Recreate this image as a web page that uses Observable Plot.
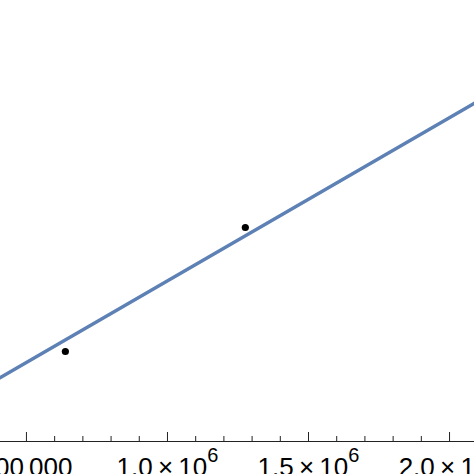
<!DOCTYPE html>
<html>
<head>
<meta charset="utf-8">
<script src="https://cdn.jsdelivr.net/npm/d3@7"></script>
<script src="https://cdn.jsdelivr.net/npm/@observablehq/plot@0.6"></script>
<style>
  html, body { margin: 0; padding: 0; background: #fff; overflow: hidden; }
  #chart svg { display: block; }
</style>
</head>
<body>
<div id="chart"></div>
<script>
// Observed data points (y in arbitrary units, no y axis shown)
const pointX = [638000, 1276000];
const pointY = [90, 214];

// Fitted line endpoints
const fitX = [400000, 2100000];
const fitY = [62.7, 340.2];

// X axis ticks
const majorTicks = [500000, 1000000, 1500000, 2000000];
const majorLabels = ["500\u2009000", "1.0\u2009×\u200910^6", "1.5\u2009×\u200910^6", "2.0\u2009×\u200910^6"];
const minorTicks = [600000, 700000, 800000, 900000, 1100000, 1200000, 1300000, 1400000, 1600000, 1700000, 1800000, 1900000];

const points = pointX.map((x, i) => ({x, y: pointY[i]}));
const fit = fitX.map((x, i) => ({x, y: fitY[i]}));
const majors = majorTicks.map((x, i) => ({x, label: majorLabels[i]}));

const chart = Plot.plot({
  width: 474,
  height: 474,
  marginTop: 0,
  marginLeft: 0,
  marginRight: 0,
  marginBottom: 33,
  x: {domain: [408000, 2088500], axis: null},
  y: {domain: [0, 441], axis: null},
  style: {background: "#fff", fontFamily: "'Liberation Sans', Arial, sans-serif"},
  marks: [
    Plot.ruleY([0], {stroke: "#222", strokeWidth: 1}),
    Plot.ruleX(majors, {x: "x", y1: 0, y2: 9, stroke: "#222", strokeWidth: 1}),
    Plot.ruleX(minorTicks, {x: d => d, y1: 0, y2: 5, stroke: "#222", strokeWidth: 1}),
    Plot.text(majors, {x: "x", y: 0, text: "label", fontSize: 26, fill: "#000", lineAnchor: "bottom", dy: 34, textAnchor: "middle"}),
    Plot.line(fit, {x: "x", y: "y", stroke: "#5E81B5", strokeWidth: 3.5}),
    Plot.dot(points, {x: "x", y: "y", r: 3.6, fill: "#000", stroke: "none"})
  ]
});

// superscripts for the exponent labels
d3.select(chart).selectAll("text").each(function() {
  const el = d3.select(this);
  const t = el.text();
  if (t.includes("^")) {
    const [base, exp] = t.split("^");
    el.text(null);
    el.append("tspan").text(base);
    el.append("tspan").attr("dy", "-0.68em").attr("font-size", 20).text(exp);
  }
});

document.getElementById("chart").appendChild(chart);
</script>
</body>
</html>
